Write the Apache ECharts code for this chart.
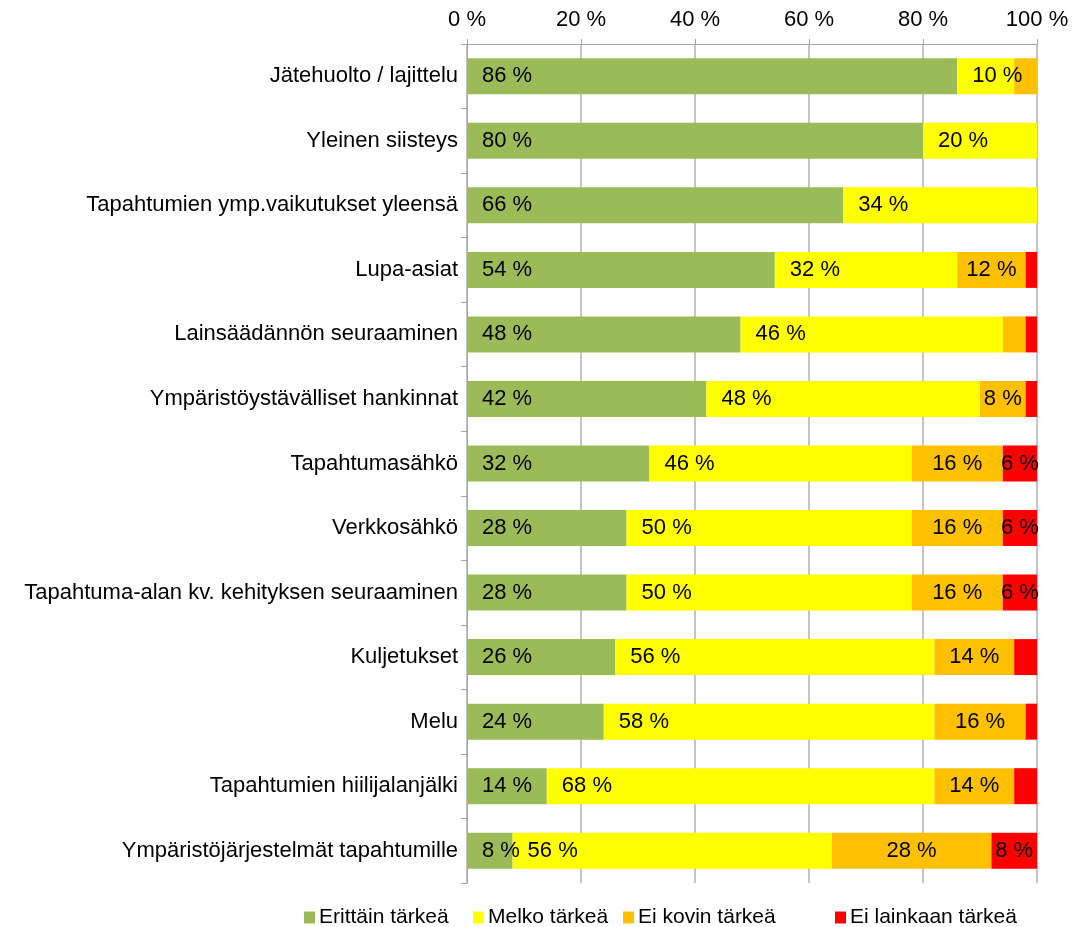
<!DOCTYPE html>
<html>
<head>
<meta charset="utf-8">
<script src="https://cdn.jsdelivr.net/npm/echarts@6/dist/echarts.min.js"></script>
<style>html,body{margin:0;padding:0;background:#fff}#c{width:1075px;height:927px}</style>
</head>
<body>
<div id="c"></div>
<script>
const categories = [
  'Jätehuolto / lajittelu',
  'Yleinen siisteys',
  'Tapahtumien ymp.vaikutukset yleensä',
  'Lupa-asiat',
  'Lainsäädännön seuraaminen',
  'Ympäristöystävälliset hankinnat',
  'Tapahtumasähkö',
  'Verkkosähkö',
  'Tapahtuma-alan kv. kehityksen seuraaminen',
  'Kuljetukset',
  'Melu',
  'Tapahtumien hiilijalanjälki',
  'Ympäristöjärjestelmät tapahtumille'
];
const seriesNames = ['Erittäin tärkeä', 'Melko tärkeä', 'Ei kovin tärkeä', 'Ei lainkaan tärkeä'];
const erittain = [86, 80, 66, 54, 48, 42, 32, 28, 28, 26, 24, 14, 8];
const melko    = [10, 20, 34, 32, 46, 48, 46, 50, 50, 56, 58, 68, 56];
const eiKovin  = [4, 0, 0, 12, 4, 8, 16, 16, 16, 14, 16, 14, 28];
const eiLainkaan = [0, 0, 0, 2, 2, 2, 6, 6, 6, 4, 2, 4, 8];
const tickLabels = ['0 %', '20 %', '40 %', '60 %', '80 %', '100 %'];

const colors = ['#9BBB59', '#FFFF00', '#FFC000', '#FF0000'];
const FONT = 'Liberation Sans, Arial, sans-serif';
const FS = 22;
const values = [erittain, melko, eiKovin, eiLainkaan];
const positions = ['insideLeft', 'insideLeft', 'inside', 'inside'];
const legendLefts = [299, 468, 618, 830];

const chart = echarts.init(document.getElementById('c'));
chart.setOption({
  animation: false,
  color: colors,
  grid: { left: 467, right: 38, top: 44, bottom: 44, containLabel: false },
  legend: seriesNames.map((n, i) => ({
    top: 902, left: legendLefts[i],
    itemWidth: 11, itemHeight: 12,
    icon: 'rect',
    textStyle: { fontFamily: FONT, fontSize: 21, color: '#000', padding: [0, 0, 0, -1] },
    data: [n]
  })),
  xAxis: {
    type: 'value', position: 'top', min: 0, max: 100, interval: 20,
    axisLine: { show: true, lineStyle: { color: '#a6a6a6', width: 1 } },
    axisTick: { show: true, length: 5, lineStyle: { color: '#a6a6a6' } },
    splitLine: { show: true, lineStyle: { color: '#b0b0b0', width: 1.5 } },
    axisLabel: {
      fontFamily: FONT, fontSize: FS, color: '#000', margin: 13,
      formatter: (v) => tickLabels[Math.round(v / 20)]
    }
  },
  yAxis: {
    type: 'category', inverse: true, data: categories,
    axisLine: { show: true, lineStyle: { color: '#a6a6a6', width: 1 } },
    axisTick: { show: true, length: 6, lineStyle: { color: '#a6a6a6' } },
    axisLabel: { fontFamily: FONT, fontSize: FS, color: '#000', margin: 9 }
  },
  series: seriesNames.map((name, i) => ({
    name, type: 'bar', stack: 'total', barWidth: 36,
    itemStyle: { color: colors[i] },
    label: {
      show: true, position: positions[i], distance: 15,
      fontFamily: FONT, fontSize: FS, color: '#000',
      formatter: (p) => p.value >= 6 ? p.value + ' %' : ''
    },
    data: values[i]
  }))
});
</script>
</body>
</html>
